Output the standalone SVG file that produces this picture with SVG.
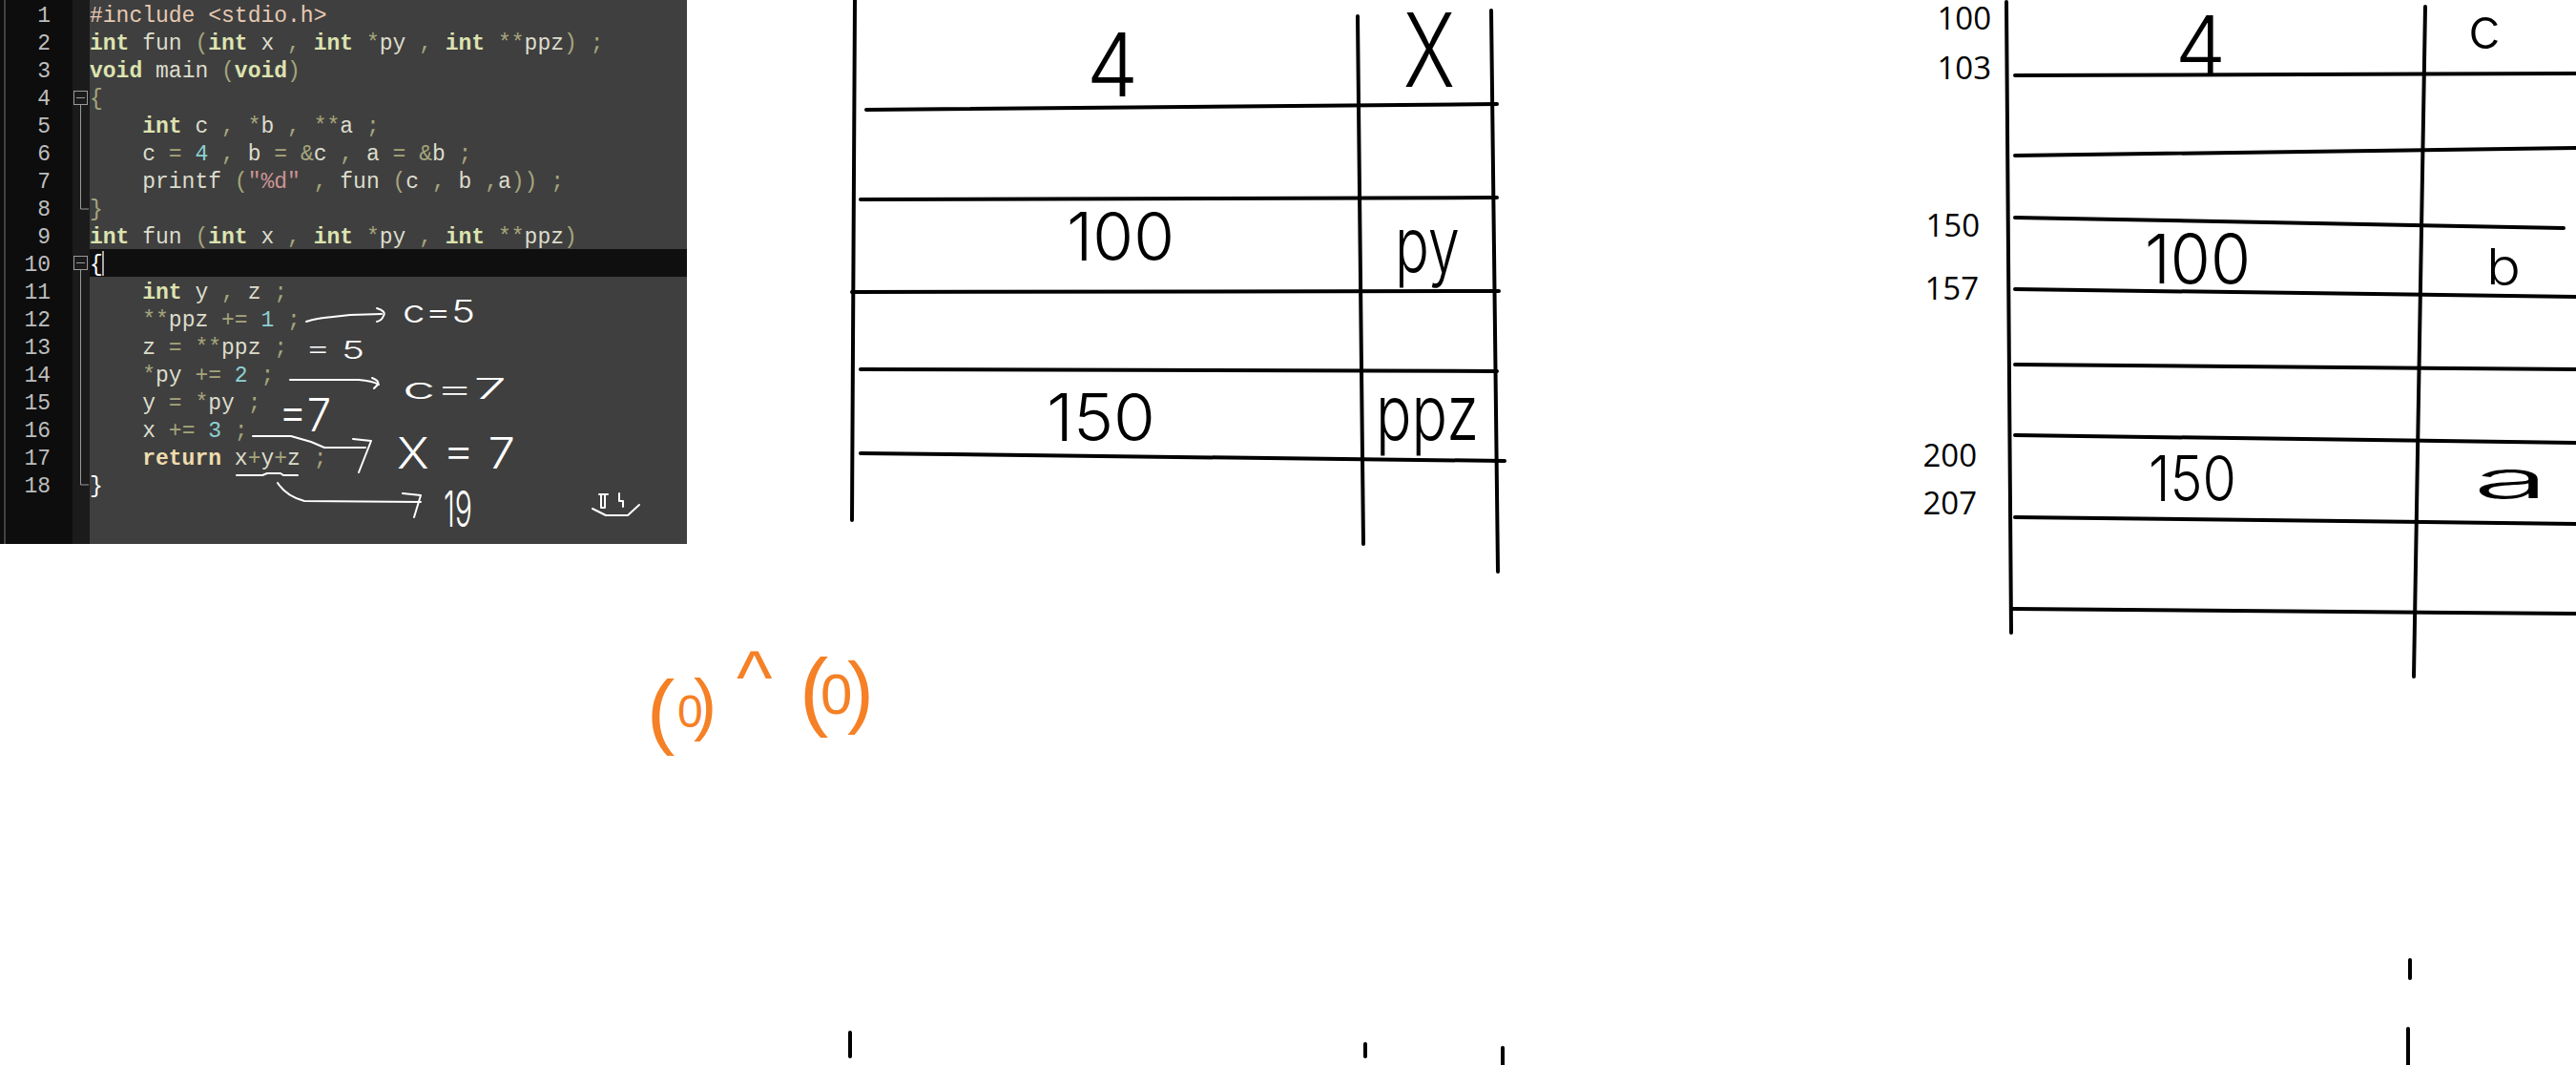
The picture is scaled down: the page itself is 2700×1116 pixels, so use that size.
<svg xmlns="http://www.w3.org/2000/svg" width="2700" height="1116" viewBox="0 0 2700 1116">
<style>
.code{font-family:"Liberation Mono","DejaVu Sans Mono",monospace;font-size:23px;white-space:pre}
.ln{fill:#bdbdbd;text-anchor:end}
.kw{fill:#dde3b0;font-weight:bold}
.ret{fill:#efdcae;font-weight:bold}
.id{fill:#dcdccc}
.op{fill:#a5a57c}
.num{fill:#8cd0d3}
.str{fill:#cc9393}
.pre{fill:#e6c9b2}
.wb{fill:#ffffff}
.hw{font-family:Inter,"Liberation Sans",sans-serif;font-weight:300;fill:#000}
.hwc{font-family:Inter,"Liberation Sans",sans-serif;font-weight:300;fill:#ffffff}
.addr{font-family:"Open Sans","Liberation Sans",sans-serif;font-size:33px;fill:#000;text-anchor:end}
.bl{stroke:#000;stroke-width:4;stroke-linecap:round;fill:none}
.wl{stroke:#fff;stroke-width:2;stroke-linecap:round;stroke-linejoin:round;fill:none}
.fold{stroke:#9a9a9a;stroke-width:1;fill:none}
.orange{font-family:"Liberation Sans",sans-serif;fill:#f58025}
</style>
<rect width="2700" height="1116" fill="#ffffff"/>
<g id="code-panel">
<rect x="0" y="0" width="720" height="570" fill="#3f3f3f"/>
<rect x="0" y="0" width="76" height="570" fill="#0d0d0d"/>
<rect x="76" y="0" width="18" height="570" fill="#1b1b1b"/>
<line x1="5" y1="0" x2="5" y2="570" stroke="#555" stroke-width="1.5"/>
<rect x="94" y="261" width="626" height="29" fill="#0f0f0f"/>
<line x1="108" y1="263" x2="108" y2="289" stroke="#dddddd" stroke-width="1.5"/>
<rect x="77.5" y="95.5" width="14" height="14" class="fold"/>
<line x1="80" y1="102.5" x2="89" y2="102.5" class="fold"/>
<polyline points="84.5,110 84.5,219 93,219" class="fold"/>
<rect x="77.5" y="268.5" width="14" height="14" class="fold"/>
<line x1="80" y1="275.5" x2="89" y2="275.5" class="fold"/>
<polyline points="84.5,283 84.5,508 93,508" class="fold"/>
<g class="code ln">
<text x="53" y="23">1</text><text x="53" y="52">2</text><text x="53" y="81">3</text><text x="53" y="110">4</text><text x="53" y="139">5</text><text x="53" y="168">6</text><text x="53" y="197">7</text><text x="53" y="226">8</text><text x="53" y="255">9</text><text x="53" y="284">10</text><text x="53" y="313">11</text><text x="53" y="342">12</text><text x="53" y="371">13</text><text x="53" y="400">14</text><text x="53" y="429">15</text><text x="53" y="458">16</text><text x="53" y="487">17</text><text x="53" y="516">18</text>
</g>
<text class="code" x="94" y="23"><tspan class="pre">#include &lt;stdio.h&gt;</tspan></text>
<text class="code" x="94" y="52"><tspan class="kw">int</tspan><tspan class="id"> fun </tspan><tspan class="op">(</tspan><tspan class="kw">int</tspan><tspan class="id"> x </tspan><tspan class="op">, </tspan><tspan class="kw">int</tspan><tspan class="op"> *</tspan><tspan class="id">py </tspan><tspan class="op">, </tspan><tspan class="kw">int</tspan><tspan class="op"> **</tspan><tspan class="id">ppz</tspan><tspan class="op">) ;</tspan></text>
<text class="code" x="94" y="81"><tspan class="kw">void</tspan><tspan class="id"> main </tspan><tspan class="op">(</tspan><tspan class="kw">void</tspan><tspan class="op">)</tspan></text>
<text class="code" x="94" y="110"><tspan class="op">{</tspan></text>
<text class="code" x="94" y="139"><tspan class="kw">    int</tspan><tspan class="id"> c </tspan><tspan class="op">, *</tspan><tspan class="id">b </tspan><tspan class="op">, **</tspan><tspan class="id">a </tspan><tspan class="op">;</tspan></text>
<text class="code" x="94" y="168"><tspan class="id">    c </tspan><tspan class="op">= </tspan><tspan class="num">4</tspan><tspan class="op"> , </tspan><tspan class="id">b </tspan><tspan class="op">= &amp;</tspan><tspan class="id">c </tspan><tspan class="op">, </tspan><tspan class="id">a </tspan><tspan class="op">= &amp;</tspan><tspan class="id">b </tspan><tspan class="op">;</tspan></text>
<text class="code" x="94" y="197"><tspan class="id">    printf </tspan><tspan class="op">(</tspan><tspan class="str">"%d"</tspan><tspan class="op"> , </tspan><tspan class="id">fun </tspan><tspan class="op">(</tspan><tspan class="id">c </tspan><tspan class="op">, </tspan><tspan class="id">b </tspan><tspan class="op">,</tspan><tspan class="id">a</tspan><tspan class="op">)) ;</tspan></text>
<text class="code" x="94" y="226"><tspan class="op">}</tspan></text>
<text class="code" x="94" y="255"><tspan class="kw">int</tspan><tspan class="id"> fun </tspan><tspan class="op">(</tspan><tspan class="kw">int</tspan><tspan class="id"> x </tspan><tspan class="op">, </tspan><tspan class="kw">int</tspan><tspan class="op"> *</tspan><tspan class="id">py </tspan><tspan class="op">, </tspan><tspan class="kw">int</tspan><tspan class="op"> **</tspan><tspan class="id">ppz</tspan><tspan class="op">)</tspan></text>
<text class="code" x="94" y="284"><tspan class="wb">{</tspan></text>
<text class="code" x="94" y="313"><tspan class="kw">    int</tspan><tspan class="id"> y </tspan><tspan class="op">, </tspan><tspan class="id">z </tspan><tspan class="op">;</tspan></text>
<text class="code" x="94" y="342"><tspan class="op">    **</tspan><tspan class="id">ppz </tspan><tspan class="op">+= </tspan><tspan class="num">1</tspan><tspan class="op"> ;</tspan></text>
<text class="code" x="94" y="371"><tspan class="id">    z </tspan><tspan class="op">= **</tspan><tspan class="id">ppz </tspan><tspan class="op">;</tspan></text>
<text class="code" x="94" y="400"><tspan class="op">    *</tspan><tspan class="id">py </tspan><tspan class="op">+= </tspan><tspan class="num">2</tspan><tspan class="op"> ;</tspan></text>
<text class="code" x="94" y="429"><tspan class="id">    y </tspan><tspan class="op">= *</tspan><tspan class="id">py </tspan><tspan class="op">;</tspan></text>
<text class="code" x="94" y="458"><tspan class="id">    x </tspan><tspan class="op">+= </tspan><tspan class="num">3</tspan><tspan class="op"> ;</tspan></text>
<text class="code" x="94" y="487"><tspan class="ret">    return</tspan><tspan class="id"> x</tspan><tspan class="op">+</tspan><tspan class="id">y</tspan><tspan class="op">+</tspan><tspan class="id">z </tspan><tspan class="op">;</tspan></text>
<text class="code" x="94" y="516"><tspan class="wb">}</tspan></text>
</g>
<g id="annotations">
<text class="hwc" x="422" y="338" font-size="32" textLength="76" lengthAdjust="spacingAndGlyphs">c=5</text>
<text class="hwc" x="320" y="376" font-size="26" textLength="62" lengthAdjust="spacingAndGlyphs">= 5</text>
<text class="hwc" x="422" y="418" font-size="30" textLength="109" lengthAdjust="spacingAndGlyphs">c=7</text>
<text class="hwc" x="292" y="452" font-size="48" textLength="55" lengthAdjust="spacingAndGlyphs">=7</text>
<text class="hwc" x="416" y="491" font-size="45" textLength="124" lengthAdjust="spacingAndGlyphs">X = 7</text>
<text class="hwc" x="465" y="552" font-size="52" textLength="30" lengthAdjust="spacingAndGlyphs">19</text>
<path class="wl" d="M248,498 L275,498 L280,496 L294,496 L297,498 L312,498"/>
<g id="smiley">
<path class="wl" stroke-width="1.5" d="M628,518 L637,518 M630,518 L630,532 L634,532 L634,518"/>
<path class="wl" stroke-width="1.5" d="M649,517 L649,525 L653,525 L653,531"/>
<path class="wl" stroke-width="1.5" d="M621,533 L635,540 L658,540 L670,529"/>
</g>
</g>
<g id="connectors">
<path class="wl" d="M321,337 C333,333 340,333 349,332 L367,330 L400,329"/>
<path class="wl" d="M395,323 Q405,326 402,331 Q400,336 395,337"/>
<path class="wl" d="M304,398 L376,398 Q390,399 397,403"/>
<path class="wl" d="M390,396 Q398,399 396,403 L392,407"/>
<path class="wl" d="M265,457 L305,457 L326,463 L340,469 L383,469"/>
<path class="wl" d="M370,460 L389,462 L376,495"/>
<path class="wl" d="M291,506 Q300,520 319,525 L441,526"/>
<path class="wl" d="M422,517 L441,519 L434,542"/>
</g>
<g id="table-left">
<path class="bl" d="M896,0 L893,545"/>
<path class="bl" d="M1423,17 L1429,570"/>
<path class="bl" d="M1563,11 L1570,599"/>
<path class="bl" d="M908,115 L1569,109"/>
<path class="bl" d="M902,209 L1569,207"/>
<path class="bl" d="M893,306 L1571,305"/>
<path class="bl" d="M902,387 L1569,389"/>
<path class="bl" d="M902,475 L1577,483"/>
<text class="hw" x="1139" y="101" font-size="92" textLength="54" lengthAdjust="spacingAndGlyphs">4</text>
<text class="hw" x="1471" y="91" font-size="107" textLength="54" lengthAdjust="spacingAndGlyphs">X</text>
<text class="hw" x="1118" y="273" font-size="70" textLength="113" lengthAdjust="spacingAndGlyphs">100</text>
<text class="hw" x="1462" y="285" font-size="80" textLength="68" lengthAdjust="spacingAndGlyphs">py</text>
<text class="hw" x="1097" y="462" font-size="68" textLength="114" lengthAdjust="spacingAndGlyphs">150</text>
<text class="hw" x="1442" y="461" font-size="80" textLength="108" lengthAdjust="spacingAndGlyphs">ppz</text>
</g>
<g id="table-right">
<path class="bl" d="M2103,2 L2108,663"/>
<path class="bl" d="M2542,7 L2530,709"/>
<path class="bl" d="M2112,79 L2700,77"/>
<path class="bl" d="M2112,163 L2700,155"/>
<path class="bl" d="M2112,228 L2687,239"/>
<path class="bl" d="M2112,303 L2700,311"/>
<path class="bl" d="M2112,382 L2700,387"/>
<path class="bl" d="M2112,456 L2700,464"/>
<path class="bl" d="M2112,542 L2700,549"/>
<path class="bl" d="M2110,638 L2700,643"/>
<text class="hw" x="2280" y="78" font-size="85" textLength="53" lengthAdjust="spacingAndGlyphs">4</text>
<text class="hw" x="2587" y="51" font-size="60" textLength="34" lengthAdjust="spacingAndGlyphs">c</text>
<text class="hw" x="2248" y="297" font-size="72" textLength="111" lengthAdjust="spacingAndGlyphs">100</text>
<text class="hw" x="2606" y="298" font-size="52" textLength="36" lengthAdjust="spacingAndGlyphs">b</text>
<text class="hw" x="2252" y="525" font-size="66" textLength="92" lengthAdjust="spacingAndGlyphs">150</text>
<text class="hw" x="2592" y="522" font-size="55" textLength="80" lengthAdjust="spacingAndGlyphs">a</text>
</g>
<g id="addresses">
<text class="addr" x="2087" y="31">100</text>
<text class="addr" x="2087" y="83">103</text>
<text class="addr" x="2075" y="248">150</text>
<text class="addr" x="2074" y="314">157</text>
<text class="addr" x="2072" y="489">200</text>
<text class="addr" x="2072" y="539">207</text>
</g>
<g id="orange">
<text class="orange"><tspan x="678" y="774" font-size="88">(</tspan><tspan x="710" y="762" font-size="48">0</tspan><tspan x="727" y="762" font-size="72">)</tspan><tspan x="772" y="737" font-size="80">^</tspan><tspan x="838" y="754" font-size="91">(</tspan><tspan x="860" y="748" font-size="60">0</tspan><tspan x="888" y="753" font-size="83">)</tspan></text>
</g>
<g id="ticks">
<path class="bl" d="M891,1082 L891,1107"/>
<path class="bl" d="M1431,1094 L1431,1107"/>
<path class="bl" d="M1575,1098 L1575,1116"/>
<path class="bl" d="M2526,1006 L2526,1025"/>
<path class="bl" d="M2524,1078 L2524,1116"/>
</g>
</svg>
